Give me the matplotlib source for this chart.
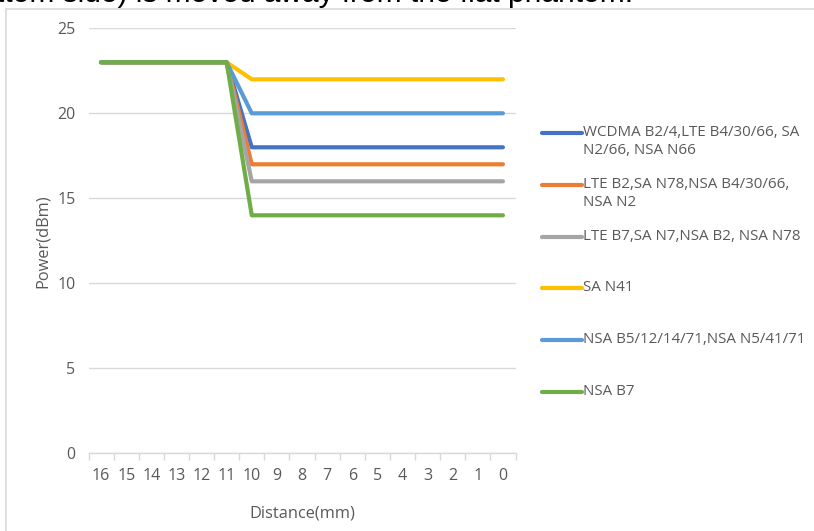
import matplotlib.pyplot as plt
from matplotlib.lines import Line2D
from matplotlib.patches import Rectangle

plt.rcParams['font.family'] = ['Open Sans', 'DejaVu Sans']

# distance from the phantom, mm (plotted left to right as 16 -> 0)
distance = [16, 15, 14, 13, 12, 11, 10, 9, 8, 7, 6, 5, 4, 3, 2, 1, 0]

labels = [
    'WCDMA B2/4,LTE B4/30/66, SA\nN2/66, NSA N66',
    'LTE B2,SA N78,NSA B4/30/66,\nNSA N2',
    'LTE B7,SA N7,NSA B2, NSA N78',
    'SA N41',
    'NSA B5/12/14/71,NSA N5/41/71',
    'NSA B7',
]
colors = ['#4472C4', '#ED7D31', '#A5A5A5', '#FFC000', '#5B9BD5', '#70AD47']

# power in dBm at each distance
wcdma = [23, 23, 23, 23, 23, 23, 18, 18, 18, 18, 18, 18, 18, 18, 18, 18, 18]
lte_b2 = [23, 23, 23, 23, 23, 23, 17, 17, 17, 17, 17, 17, 17, 17, 17, 17, 17]
lte_b7 = [23, 23, 23, 23, 23, 23, 16, 16, 16, 16, 16, 16, 16, 16, 16, 16, 16]
sa_n41 = [23, 23, 23, 23, 23, 23, 22, 22, 22, 22, 22, 22, 22, 22, 22, 22, 22]
nsa_b5 = [23, 23, 23, 23, 23, 23, 20, 20, 20, 20, 20, 20, 20, 20, 20, 20, 20]
nsa_b7 = [23, 23, 23, 23, 23, 23, 14, 14, 14, 14, 14, 14, 14, 14, 14, 14, 14]
series = [wcdma, lte_b2, lte_b7, sa_n41, nsa_b5, nsa_b7]

W, H = 814, 531
fig = plt.figure(figsize=(W / 100, H / 100), dpi=100)

# chart frame, kept behind the axes
fig.patches.append(Rectangle((5.5 / W, -0.1), 1.0, 1.1 - 9 / H, transform=fig.transFigure,
                             facecolor='none', edgecolor='#D9D9D9', linewidth=1.2,
                             zorder=-5))

# caption text running off the top of the page
fig.text(-4 / W, 1 - 2.5 / H, 'ttom side) is moved away from the flat phantom.',
         fontsize=21.5, color='black', ha='left', va='baseline', family='Liberation Sans')

ax = fig.add_axes([88.5 / W, 1 - 453.3 / H, (515.5 - 88.5) / W, (453.3 - 28.3) / H])
ax.set_facecolor('none')

pos = list(range(len(distance)))
for vals, c, lab in zip(series, colors, labels):
    ax.plot(pos, vals, color=c, linewidth=3.0, label=lab, solid_capstyle='round')

ax.set_xlim(-0.5, len(distance) - 0.5)
ax.set_ylim(0, 25)
ax.set_yticks([0, 5, 10, 15, 20, 25])
ax.set_xticks(pos)
ax.set_xticklabels([str(d) for d in distance])
ax.set_xticks([p - 0.5 for p in pos] + [len(pos) - 0.5], minor=True)
ax.tick_params(axis='x', which='major', length=0, pad=10.5, labelsize=11.5, labelcolor='#595959')
ax.tick_params(axis='x', which='minor', length=5, width=1, color='#D9D9D9', direction='out')
ax.tick_params(axis='y', length=0, pad=9.5, labelsize=11.5, labelcolor='#595959')
ax.grid(axis='y', color='#D9D9D9', linewidth=1)
ax.set_axisbelow(True)
for s in ['top', 'right', 'left']:
    ax.spines[s].set_visible(False)
ax.spines['bottom'].set_color('#D9D9D9')
ax.spines['bottom'].set_linewidth(1)

ax.set_xlabel('Distance(mm)', fontsize=11.8, color='#595959', labelpad=15.5)
ax.set_ylabel('Power(dBm)', fontsize=11.8, color='#595959', labelpad=4.5)

# legend drawn at the right, handle aligned with the first text line
for i, (lab, c) in enumerate(zip(labels, colors)):
    y = 1 - (133 + 51.8 * i) / H
    fig.add_artist(Line2D([542 / W, 582 / W], [y, y], transform=fig.transFigure,
                          color=c, linewidth=3.0, solid_capstyle='round'))
    fig.text(583 / W, y + 8 / H, lab, fontsize=10.9, color='#595959', ha='left', va='top',
             linespacing=1.3)

fig.savefig('out.png', dpi=100)
